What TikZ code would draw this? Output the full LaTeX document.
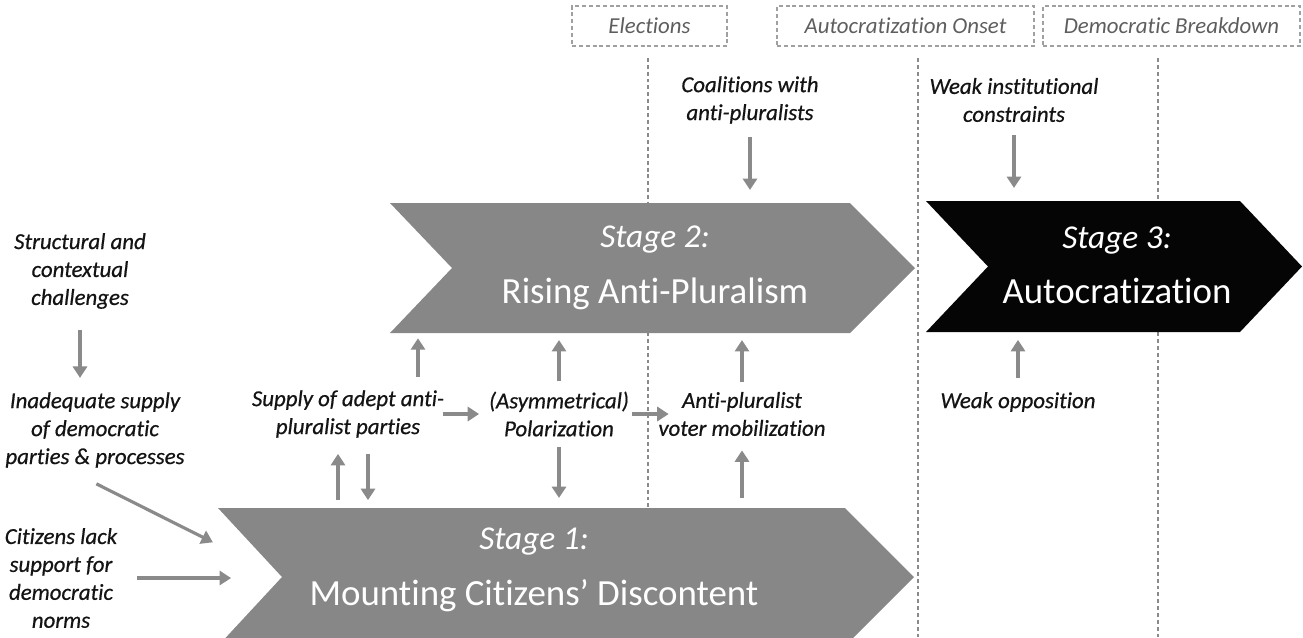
\documentclass[tikz,border=0pt]{standalone}
\usepackage{fontspec}
\setmainfont{Carlito}[RawFeature={-liga;-calt;-clig;-dlig}]
\newfontfamily\lblfont{Carlito}[RawFeature={-liga;-calt;-clig;-dlig}, FakeBold=0.6]
\usetikzlibrary{arrows.meta,calc}
\definecolor{stagegray}{HTML}{878787}
\definecolor{stageblack}{HTML}{050505}
\definecolor{arrowgray}{HTML}{8A8A8A}
\definecolor{boxgray}{HTML}{A0A0A0}
\definecolor{phasetext}{HTML}{5E5E5E}
\tikzset{
  lbl/.style={font=\lblfont\fontsize{13}{15.9}\selectfont\itshape, align=center, inner sep=0pt, text=black!92},
  phase/.style={draw=boxgray, line width=0.7pt, dash pattern=on 2.3pt off 1.6pt, minimum height=0.8cm,
                font=\fontsize{13}{15.9}\selectfont\itshape, text=phasetext, inner sep=0pt},
  divider/.style={draw=arrowgray, line width=0.6pt, dash pattern=on 2.2pt off 1.7pt},
  flow/.style={draw=arrowgray, line width=1.8pt, -{Triangle[length=6.5pt,width=8pt]}, shorten <=4.5pt, shorten >=4.5pt},
  stagetxt/.style={text=white, align=center, font=\fontsize{21}{31.5}\selectfont, inner sep=0pt}
}
\newcommand{\stg}[1]{{\fontsize{19}{31.5}\selectfont\itshape Stage #1:}}

\begin{document}
\begin{tikzpicture}[x=0.02cm, y=-0.02cm]
\useasboundingbox (0,0) rectangle (1303,637);

% time periods
\node[phase, minimum width=3.1cm] (elec) at (649.5,26) {Elections};
\node[phase, minimum width=5.14cm] (onset) at (905.5,26) {Autocratization Onset};
\node[phase, minimum width=5.14cm] (brk) at (1171.5,26) {Democratic Breakdown};
\coordinate (d1) at (648,58);
\coordinate (d2) at (918,58);
\coordinate (d3) at (1158,58);
\coordinate (base) at (0,637);
\foreach \d in {d1,d2,d3} \draw[divider] (\d) -- (\d |- base);

% stages
\fill[stagegray] (218,508) -- (845,508) -- (914,577) -- (845,646) -- (218,646) -- (282,577) -- cycle;
\fill[stagegray] (390,203) -- (850,203) -- (915,268) -- (850,333) -- (390,333) -- (452,268) -- cycle;
\fill[stageblack] (926,201) -- (1240,201) -- (1302,266.5) -- (1240,332) -- (926,332) -- (988,266.5) -- cycle;
\coordinate (s1n) at (0,508);
\coordinate (s1w) at (282,577);
\coordinate (s2n) at (0,203);
\coordinate (s2s) at (0,333);
\coordinate (s3n) at (0,201);
\coordinate (s3s) at (0,332);
\node[stagetxt] (s1) at (534,570) {\stg{1}\\Mounting Citizens’ Discontent};
\node[stagetxt] (s2) at (655,268) {\stg{2}\\Rising Anti-Pluralism};
\node[stagetxt] (s3) at (1117,265) {\stg{3}\\Autocratization};

% factors
\node[lbl] (struct) at (80,271) {Structural and\\contextual\\challenges};
\node[lbl] (inadeq) at (95,430) {Inadequate supply\\of democratic\\parties \& processes};
\node[lbl] (citiz) at (61,578) {Citizens lack\\support for\\democratic\\norms};
\node[lbl] (supply) at (348,414) {Supply of adept anti-\\pluralist parties};
\node[lbl] (polar) at (559,414) {(Asymmetrical)\\Polarization};
\node[lbl] (mobil) at (742,414) {Anti-pluralist\\voter mobilization};
\node[lbl] (coal) at (750,100) {Coalitions with\\anti-pluralists};
\node[lbl] (inst) at (1014,100) {Weak institutional\\constraints};
\node[lbl] (opp) at (1018,402) {Weak opposition};

\draw[flow, shorten <=12pt, shorten >=8pt] (struct.south) -- (struct.south |- inadeq.north);
\draw[flow, shorten <=20pt, shorten >=44pt] ($(inadeq.south)+(-30,0)$) -- (s1w);
\draw[flow, shorten <=11pt, shorten >=29pt] (citiz.east) -- (citiz.east -| s1w);
\draw[flow, shorten <=7.5pt, shorten >=3pt] ($(supply.north)+(70,0)$) -- ($(supply.north |- s2s)+(70,0)$);
\draw[flow, shorten >=9pt] ($(supply.south |- s1n)+(-10,0)$) -- ($(supply.south)+(-10,0)$);
\draw[flow, shorten <=9pt] ($(supply.south)+(20,0)$) -- ($(supply.south |- s1n)+(20,0)$);
\draw[flow, shorten <=-1pt, shorten >=5.5pt] (supply.east) -- (polar.west);
\draw[flow, shorten <=1.7pt, shorten >=-6pt] (polar.east) -- (mobil.west);
\draw[flow, shorten <=5.7pt, shorten >=4pt] (polar.north) -- (polar.north |- s2s);
\draw[flow, shorten <=5.7pt, shorten >=5.7pt] (polar.south) -- (polar.south |- s1n);
\draw[flow, shorten <=5.7pt, shorten >=4pt] (mobil.north) -- (mobil.north |- s2s);
\draw[flow, shorten <=5.7pt, shorten >=8pt] (mobil.south |- s1n) -- (mobil.south);
\draw[flow, shorten <=7.4pt, shorten >=7.4pt] (coal.south) -- (coal.south |- s2n);
\draw[flow, shorten <=7.4pt, shorten >=7.4pt] (inst.south) -- (inst.south |- s3n);
\draw[flow, shorten <=8pt, shorten >=4.5pt] (opp.north) -- (opp.north |- s3s);
\end{tikzpicture}
\end{document}
